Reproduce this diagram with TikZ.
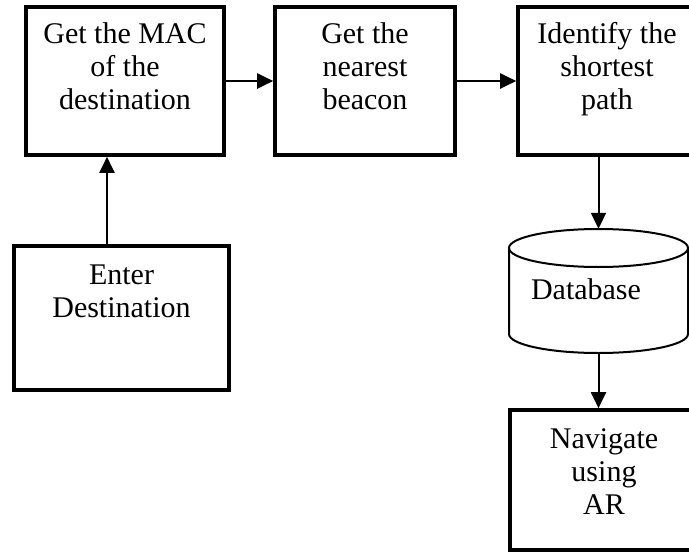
\documentclass[tikz,border=0pt]{standalone}
\usepackage{fontspec}
\setmainfont{Liberation Serif}
\usetikzlibrary{arrows.meta,positioning}
\tikzset{
    flow/.style={-{Triangle[length=16pt, width=15pt]}, line width=2pt},
    stepbox/.style={draw, rectangle, line width=3.6pt, inner sep=0pt},
    boxtext/.style={align=center, inner sep=0pt, anchor=north,
        font=\fontsize{30}{33}\selectfont}
}

\begin{document}
\begin{tikzpicture}[x=1pt, y=-1pt]
                    \useasboundingbox (0,0) rectangle (689,552);
                    \clip (0,0) rectangle (689,552);
                    % process boxes
                    \node[stepbox, minimum width=198pt, minimum height=148pt] (mac) at (125,81) {};
                    \node[stepbox, minimum width=180pt, minimum height=148pt] (beacon) at (365,81) {};
                    \node[stepbox, minimum width=178pt, minimum height=148pt] (path) at (607,81) {};
                    \node[stepbox, minimum width=215pt, minimum height=144pt] (enter) at (121.5,318) {};
                    \node[stepbox, minimum width=188pt, minimum height=140pt] (nav) at (604,480) {};
                    \node[minimum width=179pt, minimum height=124pt, inner sep=0pt] (db) at (598.5,291) {};
                    
                    % texts
                    \node[boxtext] (mac-t) at (125,22.5) {Get the MAC\\of the\\destination};
                    \node[boxtext] (beacon-t) at (365,22.5) {Get the\\nearest\\beacon};
                    \node[boxtext] (path-t) at (607,22.5) {Identify the\\shortest\\path};
                    \node[boxtext] (enter-t) at (121.5,265) {Enter\\Destination};
                    \node[boxtext] (db-t) at (586,278.5) {Database};
                    \node[boxtext] (nav-t) at (604,428.5) {Navigate\\using\\AR};
                    
                    % database drum
                    \draw[line width=2pt] (509,248) -- (509,334)
                        arc[start angle=180, end angle=0, x radius=89.5, y radius=19] -- (688,248);
                    \draw[line width=2pt] (598.5,248) ellipse[x radius=89.5, y radius=19];
                    
                    \draw[flow] ([xshift=-14.5pt]enter.north) -- ([xshift=-14.5pt]enter.north |- mac.south);
                    \draw[flow] (mac.east) -- (beacon.west);
                    \draw[flow] (beacon.east) -- (path.west);
                    \draw[flow] (path.south -| db.north) -- (db.north);
                    \draw[flow] (db.south) -- (db.south |- nav.north);
                \end{tikzpicture}
\end{document}
